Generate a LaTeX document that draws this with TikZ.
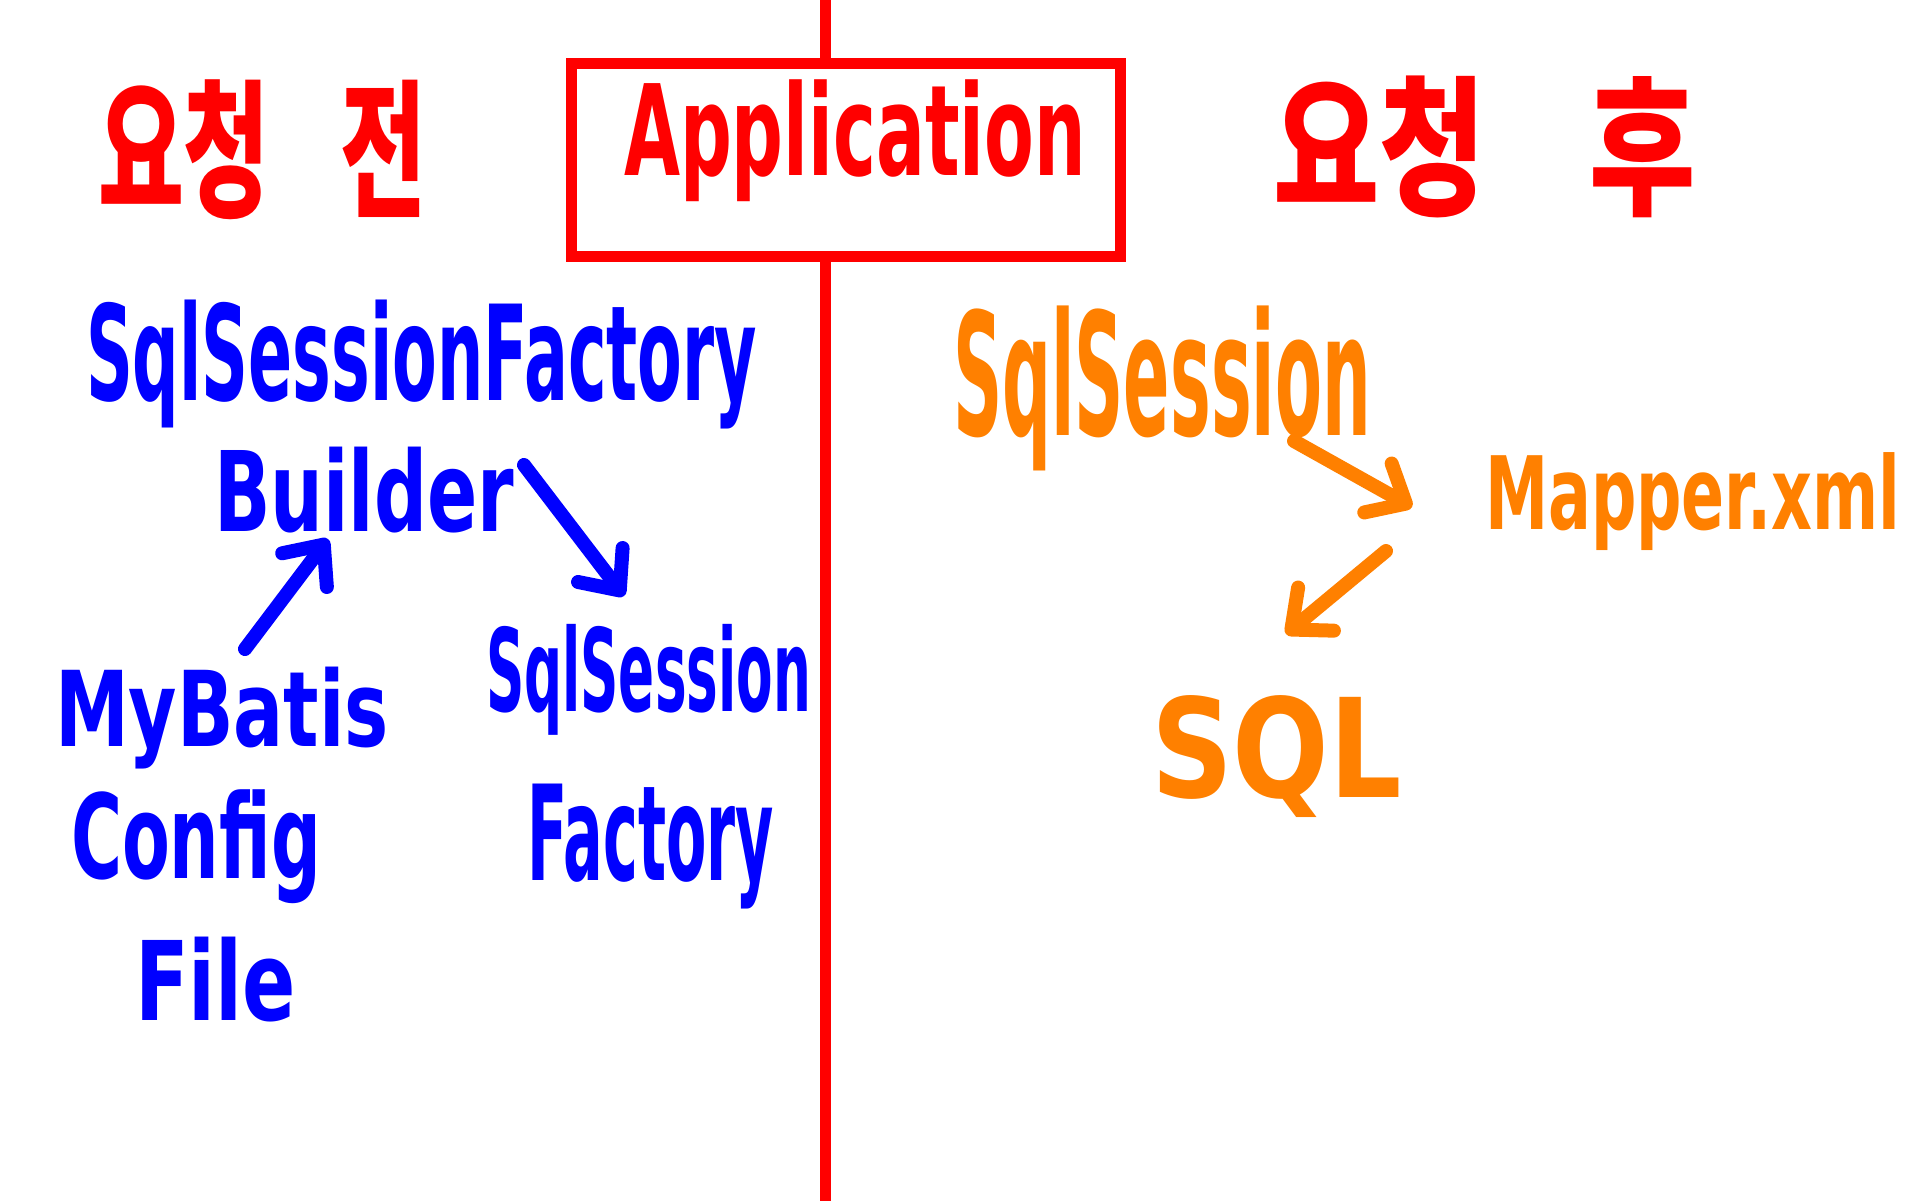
\documentclass[tikz,border=0pt]{standalone}
\usepackage{fontspec}
\usepackage{graphicx}
\setmainfont{DejaVu Sans}
\newfontfamily\kr{Noto Sans CJK KR}
\usetikzlibrary{arrows.meta,calc}
\definecolor{penred}{RGB}{255,0,0}
\definecolor{penblue}{RGB}{0,0,255}
\definecolor{penorange}{RGB}{255,128,0}
\newcommand\fitbox[3]{\resizebox*{#1pt}{#2pt}{#3}}
\begin{document}
\begin{tikzpicture}[x=0.5pt,y=-0.5pt,
  txt/.style={inner sep=0pt, outer sep=0pt, anchor=north west, font=\bfseries},
  pen/.style={line width=7pt, line cap=round, line join=round,
    -{Straight Barb[length=16pt,width=28pt,line cap=round,line join=round]}},
  redline/.style={draw=penred, line width=5.5pt}
]
\useasboundingbox[fill=white] (0,0) rectangle (1920,1200);

% Application box and divider
\node[redline, minimum width=274.5pt, minimum height=96.5pt, inner sep=0pt, outer sep=0pt] (appbox) at (845.5,159.5) {};
\coordinate (top) at (825,-10);
\coordinate (bottom) at (825,1210);
\draw[redline] (top) -- (top |- appbox.north);
\draw[redline] (bottom |- appbox.south) -- (bottom);
\node[txt, text=penred] (app) at (624,80) {\fitbox{231}{61}{Application}};

% headings
\node[txt, text=penred] (before) at (98,80) {\kr\bfseries\fitbox{164}{70}{요청\hspace{0.75em}전}};
\node[txt, text=penred] (after) at (1273,76) {\kr\bfseries\fitbox{211.5}{71}{요청\hspace{0.9em}후}};

% left (blue)
\node[txt, text=penblue] (ssfb1) at (86,300) {\fitbox{335.5}{64.5}{SqlSessionFactory}};
\node[txt, text=penblue] (builder) at (214,447) {\fitbox{150}{43}{Builder}};
\node[txt, text=penblue] (mybatis) at (55,667) {\fitbox{167}{51}{MyBatis}};
\node[txt, text=penblue] (config) at (71,790) {\fitbox{125}{57}{Config}};
\node[txt, text=penblue] (file) at (135,937) {\fitbox{80.5}{42.5}{File}};
\node[txt, text=penblue] (ssf1) at (486,624) {\fitbox{162.5}{55.5}{SqlSession}};
\node[txt, text=penblue] (ssf2) at (527,784) {\fitbox{123.5}{62.5}{Factory}};

\draw[pen, penblue] ($(mybatis.north west)+(190,-18)$) -- ($(builder.north west)+(114,92)$);
\draw[pen, penblue] ($(builder.north west)+(310,18)$) -- ($(ssf1.north west)+(138,-28)$);

% right (orange)
\node[txt, text=penorange] (sqlsession) at (953,306) {\fitbox{209}{82.5}{SqlSession}};
\node[txt, text=penorange] (mapper) at (1485,453) {\fitbox{207.5}{49}{Mapper.xml}};
\node[txt, text=penorange] (sql) at (1151,696) {\fitbox{125.5}{61}{SQL}};

\draw[pen, penorange] ($(sqlsession.north west)+(341,135)$) -- ($(mapper.north west)+(-73,54)$);
\draw[pen, penorange] ($(mapper.north west)+(-99,98)$) -- ($(sql.north west)+(135,-62)$);
\end{tikzpicture}
\end{document}
